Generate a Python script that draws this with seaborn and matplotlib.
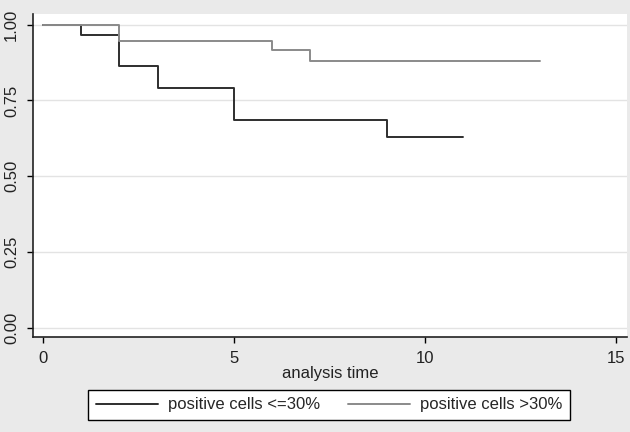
import pandas as pd
import numpy as np
import matplotlib
matplotlib.use("Agg")
import matplotlib.pyplot as plt
import seaborn as sns

sns.set_style("white")
plt.rcParams['font.family'] = ['Liberation Sans', 'DejaVu Sans']

# Kaplan-Meier step estimates
low_time = [0, 1, 2, 3, 5, 9, 11]
low_surv = [1.0, 0.967, 0.865, 0.79, 0.687, 0.63, 0.63]
high_time = [0, 2, 6, 7, 13]
high_surv = [1.0, 0.947, 0.916, 0.88, 0.88]
group_names = ["positive cells <=30%", "positive cells >30%"]
x_ticks = [0, 5, 10, 15]
y_ticks = [0.0, 0.25, 0.50, 0.75, 1.0]

df = pd.concat([
    pd.DataFrame({"time": low_time, "surv": low_surv, "group": group_names[0]}),
    pd.DataFrame({"time": high_time, "surv": high_surv, "group": group_names[1]}),
])

fig = plt.figure(figsize=(6.3, 4.32), dpi=100)
fig.patch.set_facecolor("#eaeaea")
ax = fig.add_axes([33 / 630, 1 - 337 / 432, (627 - 33) / 630, (337 - 14) / 432])
ax.set_facecolor("white")

sns.lineplot(data=df, x="time", y="surv", hue="group", estimator=None,
             drawstyle="steps-post", linewidth=1.4,
             palette={group_names[0]: "#2e2e2e", group_names[1]: "#8a8a8a"},
             ax=ax, legend=False)

ax.set_xlim(-0.26, 15.29)
ax.set_ylim(-0.03, 1.035)
ax.set_xticks(x_ticks)
ax.set_yticks(y_ticks)
ax.set_yticklabels([f"{v:.2f}" for v in y_ticks], rotation=90, va="center")
ax.tick_params(axis="both", direction="out", length=4, width=1, color="black",
               labelsize=12, labelcolor="#222222", left=True, bottom=True)
ax.tick_params(axis="x", pad=6)
ax.tick_params(axis="y", pad=6)
ax.grid(axis="y", color="#e3e3e3", linewidth=1)
ax.set_axisbelow(True)

for side in ["top", "right"]:
    ax.spines[side].set_visible(False)
for side in ["left", "bottom"]:
    ax.spines[side].set_color("#222222")
    ax.spines[side].set_linewidth(1.2)

ax.set_xlabel("analysis time", fontsize=12, color="#222222", labelpad=0)
ax.set_ylabel("")

handles = [plt.Line2D([], [], color="#2e2e2e", lw=1.4),
           plt.Line2D([], [], color="#8a8a8a", lw=1.4)]
leg = fig.legend(handles, group_names, ncol=2, loc="center",
                 bbox_to_anchor=(329 / 630, 1 - 405 / 432), frameon=True,
                 fancybox=False, edgecolor="black", facecolor="white",
                 fontsize=12, handlelength=3.7, handletextpad=0.6,
                 columnspacing=1.7, borderpad=0.45, borderaxespad=0,
                 framealpha=1)
leg.get_frame().set_linewidth(1)

plt.savefig("out.png", dpi=100)
